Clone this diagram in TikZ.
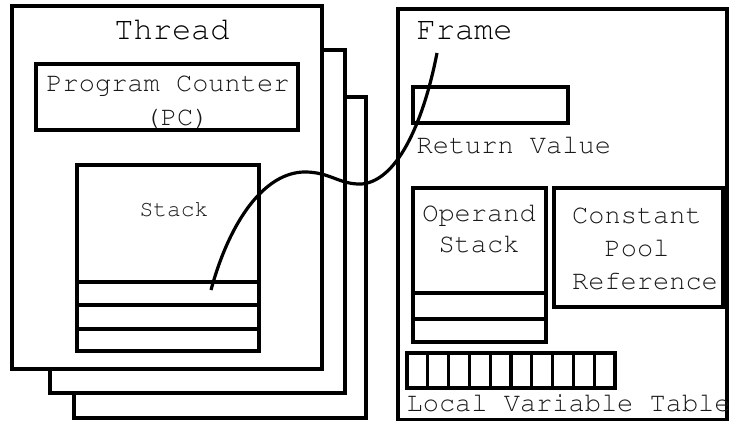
\documentclass[tikz,border=0pt]{standalone}
\usepackage[T1]{fontenc}
\usepackage{courier}

\begin{document}
\begin{tikzpicture}[x=0.5pt, y=-0.5pt, line width=1.6pt,
  lbl/.style={font=\ttfamily\fontsize{13.5}{15.5}\selectfont, text=black!90, inner sep=0pt},
  title/.style={font=\ttfamily\fontsize{16}{18}\selectfont, text=black, inner sep=0pt}]
  \useasboundingbox (0,0) rectangle (729,421);
  % --- Thread stapel ---
  \draw[fill=white] (74,97) rectangle (366,418);
  \draw[fill=white] (50,50) rectangle (345,393);
  \draw[fill=white] (12,6) rectangle (322,369);
  \node[title, anchor=base] (thread) at (172,40) {Thread};
  \draw (36,64) rectangle (298,130);
  \node[lbl, anchor=base] (pc) at (168,92) {Program Counter};
  \node[lbl, anchor=base] (pcabbr) at (177,126) {(PC)};
  \draw (77,165) rectangle (259,351);
  \node[lbl, anchor=base, font=\ttfamily\fontsize{11.5}{13}\selectfont] (stack) at (174,217) {Stack};
  \draw (75,282) -- (259,282);
  \draw (77,305) -- (259,305);
  \draw (77,329) -- (259,329);
  % --- Frame ---
  \draw (398,9) rectangle (727,420);
  \node[title, anchor=base west] (frame) at (415,40) {Frame};
  \draw (413,87) rectangle (568,123);
  \node[lbl, anchor=base west] (retval) at (415,154) {Return Value};
  \draw (413,188) rectangle (546,342);
  \draw (413,293) -- (546,293);
  \draw (413,319) -- (546,319);
  \node[lbl, anchor=base] (operand) at (479,222) {Operand};
  \node[lbl, anchor=base] (operand2) at (479,253) {Stack};
  \draw (554,188) rectangle (723,307);
  \node[lbl, anchor=base] (cpool) at (637,224) {Constant};
  \node[lbl, anchor=base] (cpool2) at (637,257) {Pool};
  \node[lbl, anchor=base] (cpool3) at (645,290) {Reference};
  \foreach \i in {0,...,9}
    \draw (407+\i*20.8,353) rectangle (427.8+\i*20.8,388);
  \node[lbl, anchor=base west] (lvt) at (405,412) {Local Variable Table};
  % --- forbindelse ---
  \coordinate (slot) at (211,290);
  \coordinate (retend) at (437,53);
  \draw (slot) .. controls (230,220) and (265,172) .. (305,172)
    .. controls (330,172) and (340,185) .. (362,184)
    .. controls (400,180) and (425,115) .. (retend);
\end{tikzpicture}
\end{document}
